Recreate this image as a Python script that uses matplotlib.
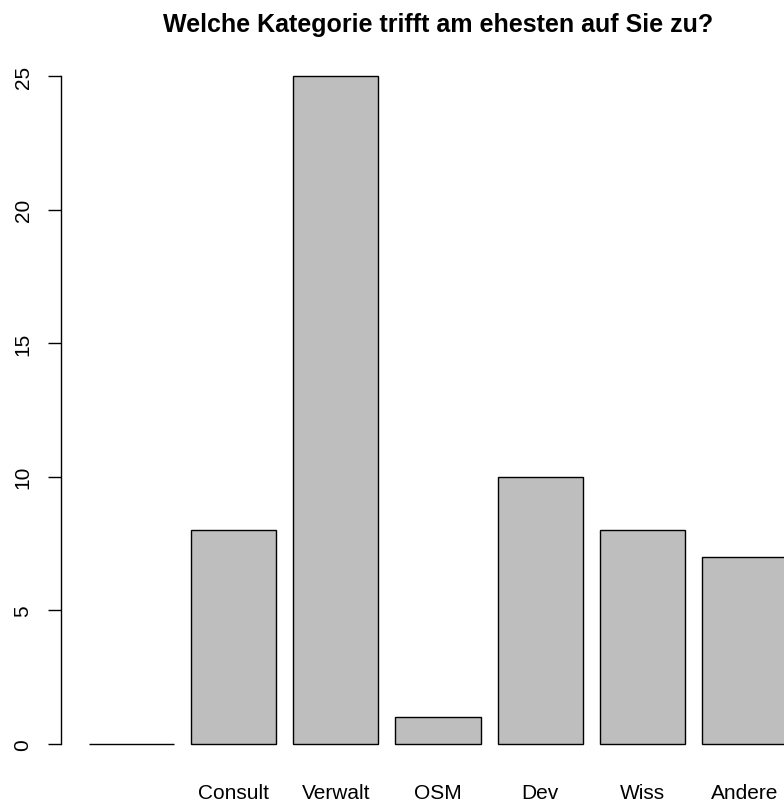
import matplotlib.pyplot as plt

plt.rcParams["font.family"] = ["Liberation Sans", "DejaVu Sans"]

categories = ["", "Consult", "Verwalt", "OSM", "Dev", "Wiss", "Andere"]
counts = [0, 8, 25, 1, 10, 8, 7]
y_ticks = [0, 5, 10, 15, 20, 25]

W, H = 784, 804
fig = plt.figure(figsize=(W / 100, H / 100), dpi=100)

# plot region in pixels (R-style barplot layout)
left, right = 61, 815
top, bottom = 50.3, 771.7
ax = fig.add_axes([left / W, (H - bottom) / H, (right - left) / W, (bottom - top) / H])

# R barplot: width 1, space 0.2
centers = [0.7 + 1.2 * i for i in range(len(counts))]
ax.bar(centers, counts, width=1.0, color="#bebebe", edgecolor="black",
       linewidth=1.0, clip_on=False)

ax.set_xlim(-0.128, 8.728)
ax.set_ylim(-1, 26)

for s in ["top", "right", "bottom"]:
    ax.spines[s].set_visible(False)
ax.spines["left"].set_bounds(0, 25)
ax.spines["left"].set_linewidth(1.0)

ax.set_yticks(y_ticks)
ax.set_yticklabels([str(t) for t in y_ticks], rotation=90, va="center", fontsize=15)
ax.tick_params(axis="y", length=9.5, width=1.0, pad=11)

ax.set_xticks(centers)
ax.set_xticklabels(categories, fontsize=15)
ax.tick_params(axis="x", length=0, pad=9)

ax.set_title("Welche Kategorie trifft am ehesten auf Sie zu?",
             fontsize=18, fontweight="bold", pad=13.5)

fig.savefig("out.png", dpi=100)
